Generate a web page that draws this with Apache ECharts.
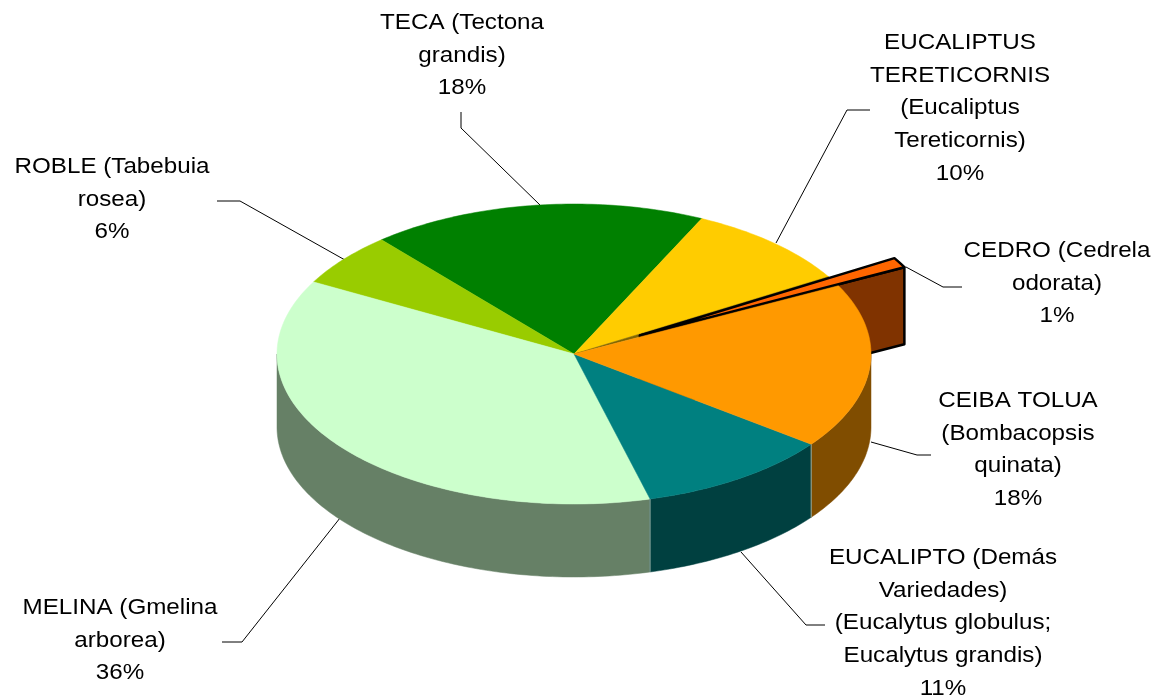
<!DOCTYPE html>
<html>
<head>
<meta charset="utf-8">
<title>Especies</title>
<style>
  html, body { margin: 0; padding: 0; background: #fff; }
  #chart { width: 1156px; height: 697px; }
</style>
<script src="https://cdn.jsdelivr.net/npm/echarts@6/dist/echarts.min.js"></script>
</head>
<body>
<div id="chart"></div>
<script>
const names = [
  'TECA (Tectona\ngrandis)',
  'EUCALIPTUS\nTERETICORNIS\n(Eucaliptus\nTereticornis)',
  'CEDRO (Cedrela\nodorata)',
  'CEIBA TOLUA\n(Bombacopsis\nquinata)',
  'EUCALIPTO (Demás\nVariedades)\n(Eucalytus globulus;\nEucalytus grandis)',
  'MELINA (Gmelina\narborea)',
  'ROBLE (Tabebuia\nrosea)',
]
const printedPercents = [18, 10, 1, 18, 11, 36, 6]
// slice sizes as measured on the drawn pie, they differ a little from the printed labels
const sliceShares = [18.3, 9.3, 1.1, 17.8, 10.6, 37.1, 5.8]

const topColors = ['#008000', '#ffcc00', '#ff6600', '#ff9900', '#008080', '#ccffcc', '#99cc00']
const wallColors = ['#004000', '#806600', '#803300', '#804d00', '#004040', '#668066', '#4d6600']

const pie = { cx: 574, cy: 354, rx: 297, ry: 150, depth: 73, startDeg: -40.4, explode: 0.254, explodedDepth: 77 }
const explodedIndex = 2
// back slices first so the front ones can cover the pulled out wedge
const paintOrder = [0, 6, 1, 2, 5, 4, 3]

// label centre x, first line y, leader polyline
const labelLayout = [
  { x: 462, y: 7, leader: [[461, 112], [461, 128], [540, 205]] },
  { x: 960, y: 27, leader: [[870, 110], [847, 110], [776, 243]] },
  { x: 1057, y: 235, leader: [[962, 287], [943, 287], [906, 267]] },
  { x: 1018, y: 385, leader: [[931, 455], [917, 455], [871, 442]] },
  { x: 943, y: 542, leader: [[825, 625], [806, 625], [741, 552]] },
  { x: 120, y: 592, leader: [[222, 642], [242, 642], [340, 518]] },
  { x: 112, y: 151, leader: [[217, 201], [240, 201], [345, 260]] },
]

const shareTotal = sliceShares.reduce((sum, value) => sum + value, 0)
let running = pie.startDeg
const sliceAngles = sliceShares.map((value) => {
  const from = running
  running += (value / shareTotal) * 360
  return { from, to: running }
})

function rimPoint(deg, ox = 0, oy = 0) {
  const rad = (deg * Math.PI) / 180
  return [pie.cx + ox + pie.rx * Math.sin(rad), pie.cy + oy - pie.ry * Math.cos(rad)]
}

function arcPoints(from, to, ox = 0, oy = 0) {
  const points = []
  const steps = Math.max(2, Math.ceil(Math.abs(to - from)))
  for (let i = 0; i <= steps; i += 1) {
    points.push(rimPoint(from + ((to - from) * i) / steps, ox, oy))
  }
  return points
}

function wedgeElement(from, to, color, ox, oy, stroke) {
  const points = [[pie.cx + ox, pie.cy + oy], ...arcPoints(from, to, ox, oy)]
  return {
    type: 'polygon',
    shape: { points },
    style: { fill: color, stroke: stroke || color, lineWidth: stroke ? 2.5 : 0.5, lineJoin: 'round' },
  }
}

function wallElement(from, to, color) {
  const a = Math.max(from, 90)
  const b = Math.min(to, 270)
  if (a >= b) return null
  const upper = arcPoints(a, b)
  const lower = arcPoints(b, a, 0, pie.depth)
  return { type: 'polygon', shape: { points: [...upper, ...lower] }, style: { fill: color, stroke: color, lineWidth: 0.5 } }
}

function seamElement(deg) {
  const [x, y] = rimPoint(deg)
  return { type: 'line', shape: { x1: x, y1: y, x2: x, y2: y + pie.depth }, style: { stroke: '#8fa8a0', lineWidth: 1 } }
}

function renderSlice(params) {
  const index = paintOrder[params.dataIndex]
  const { from, to } = sliceAngles[index]
  const children = []

  if (index === explodedIndex) {
    const mid = (from + to) / 2
    const rad = (mid * Math.PI) / 180
    const ox = pie.explode * pie.rx * Math.sin(rad)
    const oy = -pie.explode * pie.ry * Math.cos(rad)
    const apex = [pie.cx + ox, pie.cy + oy]
    const tip = rimPoint(to, ox, oy)
    // the hole the wedge leaves behind shows the cut face of the neighbour
    children.push(wedgeElement(from, to, wallColors[1], 0, 0))
    children.push({
      type: 'polygon',
      shape: { points: [apex, tip, [tip[0], tip[1] + pie.explodedDepth], [apex[0], apex[1] + pie.explodedDepth]] },
      style: { fill: wallColors[index], stroke: '#000', lineWidth: 2.5, lineJoin: 'round' },
    })
    children.push(wedgeElement(from, to, topColors[index], ox, oy, '#000'))
  } else {
    const wall = wallElement(from, to, wallColors[index])
    if (wall) children.push(wall)
    children.push(wedgeElement(from, to, topColors[index], 0, 0))
    // lighter seam where two front walls meet
    if (to > 90 && to < 270) children.push(seamElement(to))
  }
  return { type: 'group', children }
}

function renderLabel(params) {
  const index = params.dataIndex
  const layout = labelLayout[index]
  return {
    type: 'group',
    children: [
      {
        type: 'polyline',
        shape: { points: layout.leader },
        style: { stroke: '#000', lineWidth: 1, fill: null },
      },
      {
        type: 'text',
        x: layout.x,
        y: layout.y,
        // the source text is set wider than the regular face
        scaleX: 1.125,
        style: {
          text: `${names[index]}\n${printedPercents[index]}%`,
          align: 'center',
          verticalAlign: 'top',
          fontFamily: '"Liberation Sans", Arial, sans-serif',
          fontSize: 21.5,
          lineHeight: 32.6,
          fill: '#000',
        },
      },
    ],
  }
}

const chart = echarts.init(document.getElementById('chart'), null, { renderer: 'canvas' })
chart.setOption({
  animation: false,
  backgroundColor: '#fff',
  series: [
    {
      type: 'custom',
      coordinateSystem: 'none',
      silent: true,
      clip: false,
      z: 2,
      data: paintOrder.map((index) => sliceShares[index]),
      renderItem: renderSlice,
    },
    {
      type: 'custom',
      coordinateSystem: 'none',
      silent: true,
      clip: false,
      z: 1,
      data: printedPercents,
      renderItem: renderLabel,
    },
  ],
})
</script>
</body>
</html>
